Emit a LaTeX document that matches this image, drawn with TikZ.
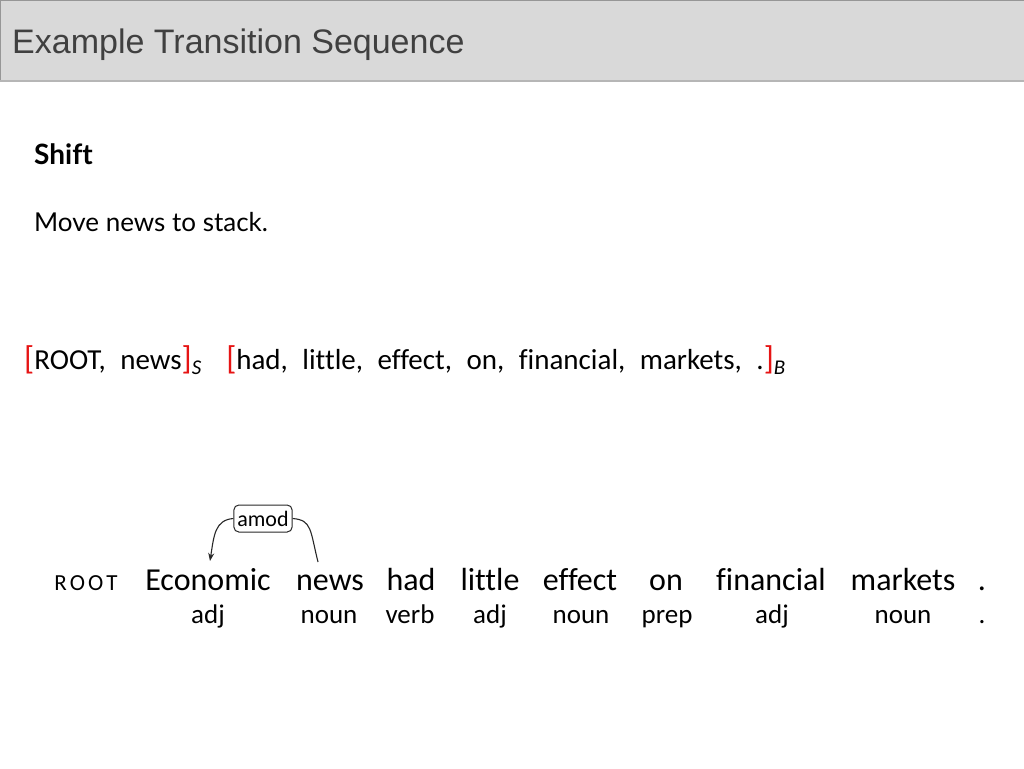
\documentclass[tikz,border=0pt]{standalone}
\usepackage{fontspec}
\setmainfont{Carlito}[Ligatures=NoCommon]
\newfontfamily\titlefont{Liberation Sans}
\newfontfamily\gillfont{Lato}[Ligatures=NoCommon]
\usetikzlibrary{arrows.meta}
\definecolor{hdrfill}{RGB}{217,217,217}
\definecolor{hdrline}{RGB}{150,150,150}
\definecolor{titlecol}{RGB}{64,64,64}
\definecolor{brk}{RGB}{230,20,20}
\definecolor{arccol}{RGB}{40,40,40}
\newcommand{\rb}[1]{{\color{brk}\fontsize{33}{33}\selectfont #1}}
\newcommand{\sub}[1]{\raisebox{-5pt}{\fontsize{21}{21}\selectfont\itshape #1}}
\newcommand{\rootsc}{{\fontsize{23}{23}\selectfont R\kern3pt O\kern3pt O\kern3pt T}}
\tikzset{
  word/.style={anchor=base, inner sep=0pt, font=\fontsize{32}{32}\selectfont},
  tag/.style={anchor=base, inner sep=0pt, font=\fontsize{27}{28}\selectfont},
  arc/.style={draw=arccol, line width=1.1pt},
  lab/.style={draw=arccol, line width=1pt, rounded corners=5pt, inner xsep=3.5pt, inner ysep=0pt, minimum height=27pt, fill=white, font=\fontsize{22}{22}\selectfont}
}
\begin{document}
\begin{tikzpicture}[x=1pt,y=-1pt]
\useasboundingbox (0,0) rectangle (1024,768);
% header
\fill[hdrfill] (0,0) rectangle (1024,81);
\draw[hdrline, line width=1.2pt] (0.6,81) -- (0.6,0.6) -- (1024,0.6);
\draw[hdrline!70, line width=1.2pt] (0,81) -- (1024,81);
\node[anchor=base west, inner sep=0pt, text=titlecol, font=\titlefont\fontsize{34}{36}\selectfont] (title) at (12,54) {Example Transition Sequence};
% body text
\node[anchor=base west, inner sep=0pt, font=\gillfont\bfseries\fontsize{28}{28}\selectfont] (shift) at (34,164) {Shift};
\node[anchor=base west, inner sep=0pt, font=\gillfont\fontsize{26}{26}\selectfont] (move) at (34,231) {Move news to stack.};
% configuration
\node[anchor=base west, inner sep=0pt, font=\fontsize{29}{29}\selectfont] (config) at (24,369)
 {\spaceskip=14.5pt\relax\rb{[}ROOT, news\rb{]}\sub{S}\hspace{25pt}\rb{[}had, little, effect, on, financial, markets, .\rb{]}\sub{B}};
% sentence
\node[word] (w0) at (86,590) {\rootsc};
\node[word] (w1) at (208,590) {Economic};
\node[word] (w2) at (330,590) {news};
\node[word] (w3) at (411,590) {had};
\node[word] (w4) at (490,590) {little};
\node[word] (w5) at (580,590) {effect};
\node[word] (w6) at (666,590) {on};
\node[word] (w7) at (771,590) {financial};
\node[word] (w8) at (903,590) {markets};
\node[word] (w9) at (982,590) {.};
\node[tag] (t1) at (208,623) {adj};
\node[tag] (t2) at (329,623) {noun};
\node[tag] (t3) at (410,623) {verb};
\node[tag] (t4) at (490,623) {adj};
\node[tag] (t5) at (581,623) {noun};
\node[tag] (t6) at (667,623) {prep};
\node[tag] (t7) at (772,623) {adj};
\node[tag] (t8) at (903,623) {noun};
\node[tag] (t9) at (982,623) {.};
% arc
\node[lab] (amod) at (263,518.5) {amod};
\coordinate (hstart) at (318,562);
\coordinate (dend) at (210,561);
\draw[arc] (hstart) .. controls (310,530) and (312,520) .. (amod.east);
\draw[arc, -{Stealth[length=8pt,width=6pt]}] (amod.west) .. controls (215,520) and (214,535) .. (dend);
\end{tikzpicture}
\end{document}
